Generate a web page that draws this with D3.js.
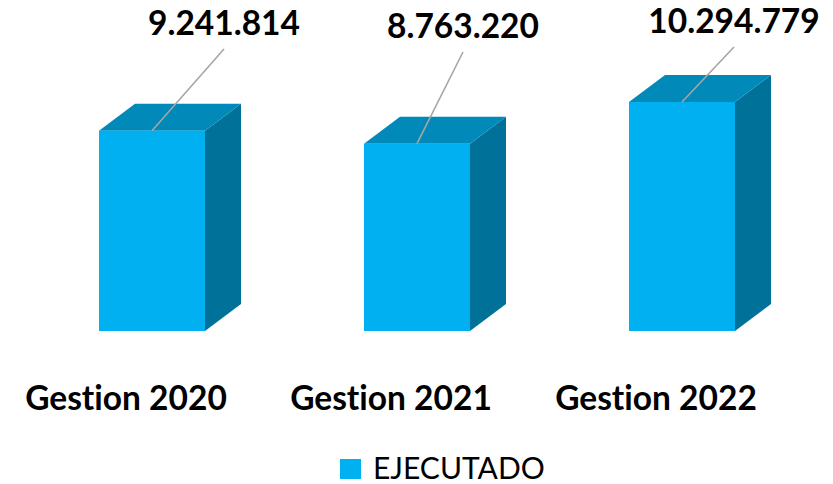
<!DOCTYPE html>
<html>
<head>
<meta charset="utf-8">
<script src="https://cdn.jsdelivr.net/npm/d3@7"></script>
<style>
  html, body { margin: 0; padding: 0; background: #fff; }
  svg { display: block; }
  text { font-variant-ligatures: none; font-feature-settings: "liga" 0; }
</style>
</head>
<body>
<svg id="chart" width="833" height="484"></svg>
<script>
// ---- data ----
const categories = ["Gestion 2020", "Gestion 2021", "Gestion 2022"];
const values = [9241814, 8763220, 10294779];
const seriesName = "EJECUTADO";

// ---- layout (not data) ----
const W = 833, H = 484;
const base = 331;
const depthX = 36, depthY = 27;
const barW = 106;
const labelPos = [ {x: 224, y: 49}, {x: 463, y: 52}, {x: 734, y: 47} ]; // leader line ends
const fmt = v => d3.format(",")(v).replace(/,/g, ".");

const svg = d3.select("#chart");

const x = d3.scalePoint().domain(categories).range([126, 656]);
const y = d3.scaleLinear().domain([1880000, 10294779]).range([base, 102]);

const frontCol = "#00B0F0", topCol = "#0089B9", sideCol = "#00729A";

const g = svg.append("g");
const bars = g.selectAll("g.bar").data(categories.map((c, i) => ({c, v: values[i], i})))
  .enter().append("g").attr("class", "bar");

bars.each(function(d) {
  const sel = d3.select(this);
  const x0 = x(d.c) - 27, x1 = x0 + barW, yt = y(d.v);
  sel.append("path").attr("fill", sideCol)
    .attr("d", `M${x1},${yt} L${x1+depthX},${yt-depthY} L${x1+depthX},${base-depthY} L${x1},${base} Z`);
  sel.append("path").attr("fill", topCol)
    .attr("d", `M${x0},${yt} L${x0+depthX},${yt-depthY} L${x1+depthX},${yt-depthY} L${x1},${yt} Z`);
  sel.append("rect").attr("fill", frontCol)
    .attr("x", x0).attr("y", yt).attr("width", barW).attr("height", base - yt);
  const lp = labelPos[d.i];
  const cx = x0 + barW / 2;
  sel.append("line").attr("x1", cx).attr("y1", yt).attr("x2", lp.x).attr("y2", lp.y)
    .attr("stroke", "#A6A6A6").attr("stroke-width", 1.6);
  sel.append("text").attr("x", lp.x).attr("y", lp.y - 14)
    .attr("text-anchor", "middle")
    .attr("font-family", "Lato, 'Open Sans', sans-serif").attr("font-weight", 700)
    .attr("font-size", 33.5).attr("fill", "#000")
    .text(fmt(d.v));
});

g.selectAll("text.cat").data(categories).enter().append("text")
  .attr("class", "cat")
  .attr("x", d => x(d)).attr("y", 410)
  .attr("text-anchor", "middle")
  .attr("font-family", "Lato, 'Open Sans', sans-serif").attr("font-weight", 700)
  .attr("font-size", 33.5).attr("fill", "#000")
  .text(d => d);

const leg = svg.append("g");
leg.append("rect").attr("x", 340).attr("y", 459).attr("width", 21).attr("height", 20).attr("fill", frontCol);
leg.append("text").attr("x", 373).attr("y", 479)
  .attr("font-family", "Lato, 'Open Sans', sans-serif").attr("font-weight", 400)
  .attr("font-size", 30).attr("fill", "#000")
  .text(seriesName);
</script>
</body>
</html>
